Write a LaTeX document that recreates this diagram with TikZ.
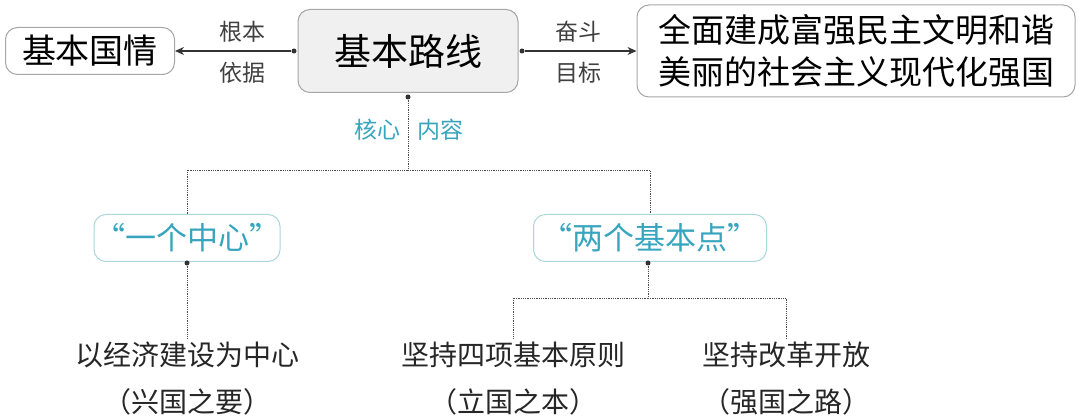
\documentclass[tikz,border=0pt]{standalone}
\usepackage{fontspec}
\setmainfont{Noto Sans CJK SC}
\usetikzlibrary{arrows.meta}
\definecolor{teal1}{RGB}{55,165,190}
\definecolor{tealb}{RGB}{170,215,222}
\tikzset{
  box/.style={draw=gray!70,rounded corners=12pt,line width=1pt,inner sep=0pt,align=center},
  tbox/.style={draw=tealb,rounded corners=12pt,line width=1pt,text=teal1,inner sep=0pt,font=\fontsize{31}{34}\selectfont},
  lab/.style={text=black!75,font=\fontsize{23}{24}\selectfont},
  bot/.style={font=\fontsize{28}{30}\selectfont,text=black!85},
  dl/.style={densely dotted,line width=0.8pt,black!70},
  dotc/.style={circle,fill=black!80,inner sep=0pt,minimum size=5pt},
  arr/.style={line width=1.3pt,black!80,-{Stealth[length=9pt,width=8pt]}}
}
\begin{document}
\begin{tikzpicture}[x=1pt,y=-1pt]
\useasboundingbox (0,0) rectangle (1080,419);
\node[box,minimum width=169pt,minimum height=47pt,font=\fontsize{34}{36}\selectfont] (L) at (90,51) {基本国情};
\node[box,fill=black!6,minimum width=220pt,minimum height=83pt,font=\fontsize{37}{40}\selectfont] (C) at (408,51) {基本路线};
\node[box,minimum width=438pt,minimum height=92pt,font=\fontsize{33}{42}\selectfont] (R) at (856,51) {全面建成富强民主文明和谐\\美丽的社会主义现代化强国};
\node[lab] (l1) at (242,32) {根本};
\node[lab] (l2) at (242,73) {依据};
\node[lab] (r1) at (578,32) {奋斗};
\node[lab] (r2) at (578,73) {目标};
\node[dotc] (dl) at (294,51) {};
\node[dotc] (dr) at (522,51) {};
\node[dotc] (db) at (408,97) {};
\draw[arr] (dl) -- (L.east);
\draw[arr] (dr) -- (R.west);
\node[text=teal1,font=\fontsize{23}{24}\selectfont] (k1) at (377,130) {核心};
\node[text=teal1,font=\fontsize{23}{24}\selectfont] (k2) at (440,130) {内容};
\node[tbox,minimum width=184pt,minimum height=47pt] (A) at (187,238) {“一个中心”};
\node[tbox,minimum width=233pt,minimum height=47pt] (B) at (650,238) {“两个基本点”};
\coordinate (h) at (408,170);
\draw[dl] (db) -- (h) -| (A.north);
\draw[dl] (h) -| (B.north);
\node[dotc] (da) at (187,263) {};
\node[dotc] (dbb) at (648,263) {};
\node[bot] (t1) at (187,355) {以经济建设为中心};
\node[bot] (s1) at (187,402) {（兴国之要）};
\node[bot] (t2) at (513,355) {坚持四项基本原则};
\node[bot] (s2) at (513,402) {（立国之本）};
\node[bot] (t3) at (786,355) {坚持改革开放};
\node[bot] (s3) at (786,402) {（强国之路）};
\coordinate (h2) at (648,298);
\draw[dl] (da) -- (t1.north);
\draw[dl] (dbb) -- (h2) -| (t2.north);
\draw[dl] (h2) -| (t3.north);
\end{tikzpicture}
\end{document}
